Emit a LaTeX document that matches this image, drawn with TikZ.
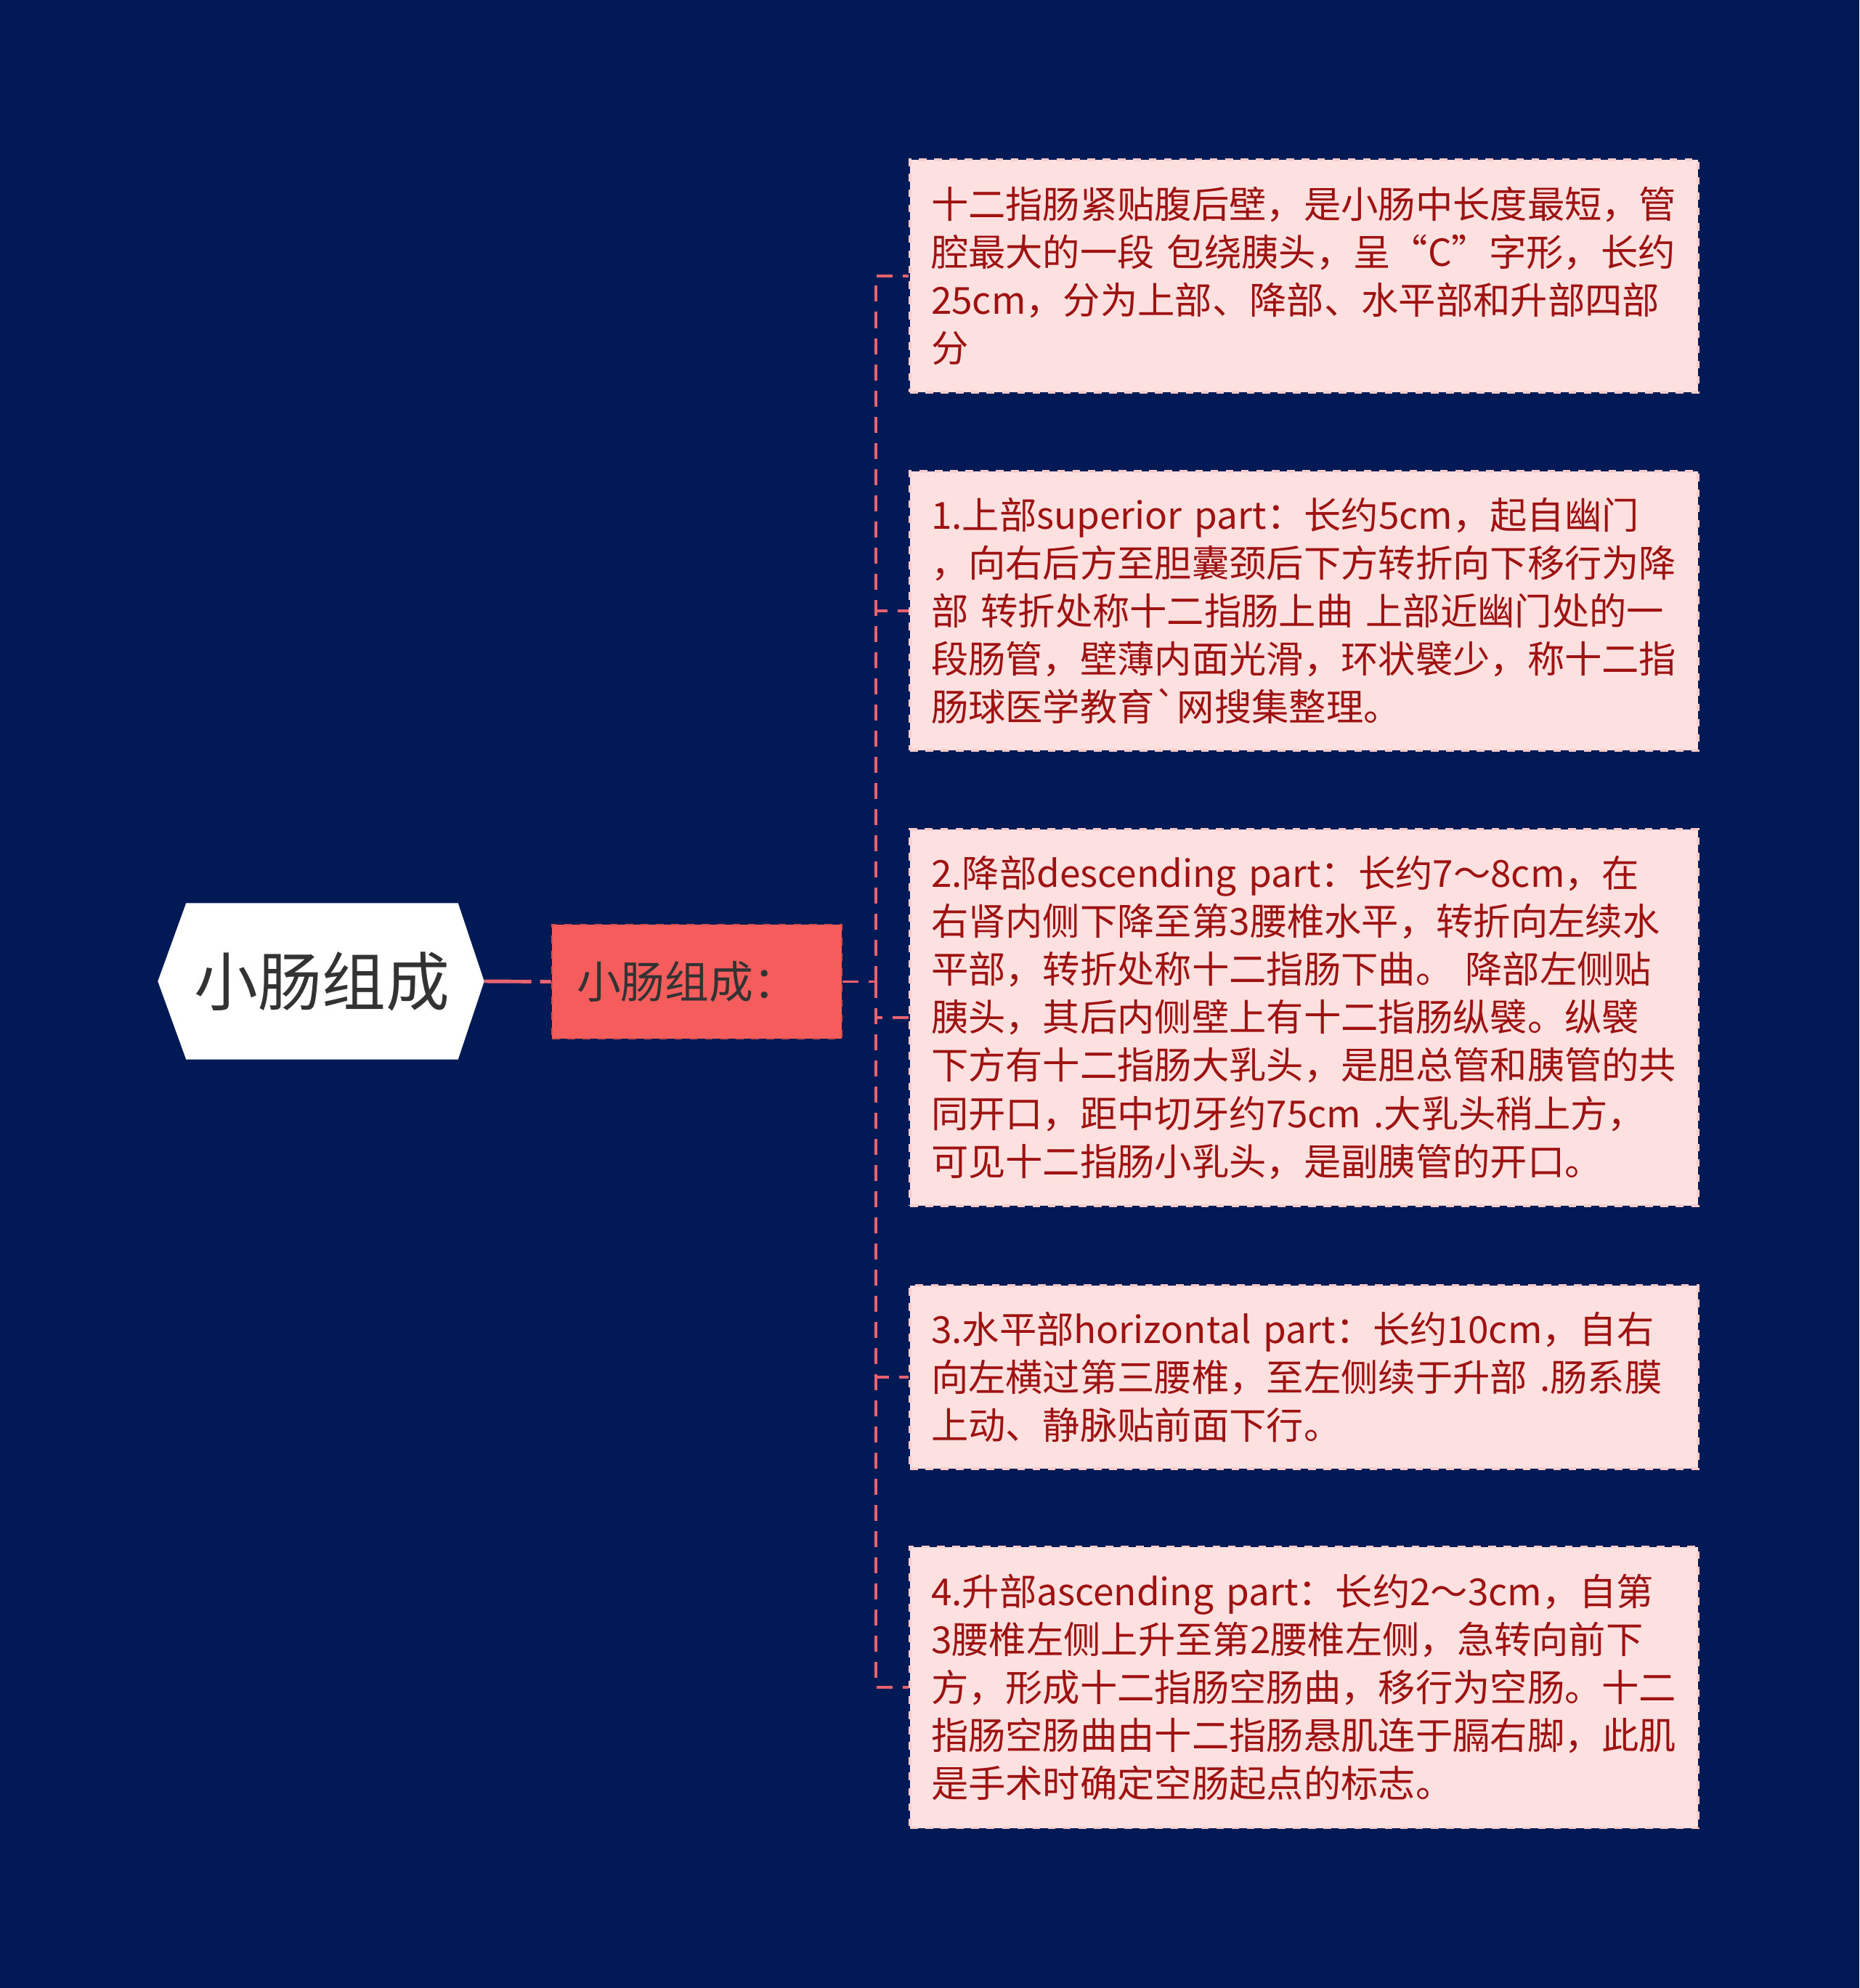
\documentclass[tikz,border=0pt]{standalone}
\usepackage{fontspec}
\setmainfont{Noto Sans CJK SC}
\newfontfamily\rawcjk{Noto Sans CJK SC}[Ligatures=TeXOff]
\usetikzlibrary{positioning}
\definecolor{bgnavy}{RGB}{1,26,86}
\definecolor{linkred}{RGB}{232,98,112}
\definecolor{subred}{RGB}{245,92,92}
\definecolor{leafpink}{RGB}{253,224,224}
\definecolor{leafrim}{RGB}{250,205,205}
\definecolor{leaftext}{RGB}{158,18,18}
\definecolor{darktext}{RGB}{51,51,51}

\begin{document}
\begin{tikzpicture}[
    leaf/.style={fill=leafpink, draw=leafrim, dashed, line width=0.9pt, text=leaftext,
        text width=10.27cm, inner xsep=0.29cm, minimum width=10.85cm, align=left,
        font=\fontsize{14.6}{18.8}\selectfont},
    link/.style={draw=linkred, line width=1.1pt, dash pattern=on 0.22cm off 0.14cm}
  ]
    \fill[bgnavy] (0,0) rectangle (25.6,-27.37);
    \useasboundingbox (0,0) rectangle (25.6,-27.37);

    % root and its hexagon
    \node[minimum width=3.73cm, minimum height=2.14cm, inner sep=0pt] at (4.435,-13.51) (root) {};
    \fill[white] (root.north west) -- (root.north east) -- ([xshift=3.6mm]root.east)
        -- (root.south east) -- (root.south west) -- ([xshift=-3.9mm]root.west) -- cycle;
    \node[text=darktext, font=\fontsize{25}{30}\selectfont] at (root) {小肠组成};

    \node[fill=subred, draw=subred!85!black, dashed, line width=0.8pt, text=darktext,
        text width=3.31cm, inner xsep=0.34cm, align=left,
        minimum width=3.99cm, minimum height=1.57cm, font=\fontsize{17.3}{20}\selectfont]
        at (9.595,-13.515) (parts) {小肠组成：};
    \draw[draw=linkred, line width=1.4pt, dash pattern=on 0.65cm off 0.12cm]
        ([xshift=3.6mm]root.east) -- (parts.west);

    % the five leaves
    \node[leaf, minimum height=3.20cm] at (17.955,-3.80) (intro) {十二指肠紧贴腹后壁，是小肠中长度最短，管\\
        腔最大的一段~包绕胰头，呈“C”字形，长约\\
        25cm，分为上部、降部、水平部和升部四部\\
        分};
    \node[leaf, minimum height=3.84cm] at (17.955,-8.41) (upper) {1.上部superior~part：长约5cm，起自幽门\\
        ，向右后方至胆囊颈后下方转折向下移行为降\\
        部~转折处称十二指肠上曲~上部近幽门处的一\\
        段肠管，壁薄内面光滑，环状襞少，称十二指\\
        肠球医学教育{\rawcjk`}网搜集整理。};
    \node[leaf, minimum height=5.18cm] at (17.955,-14.01) (desc) {2.降部descending~part：长约7～8cm，在\\
        右肾内侧下降至第3腰椎水平，转折向左续水\\
        平部，转折处称十二指肠下曲。~降部左侧贴\\
        胰头，其后内侧壁上有十二指肠纵襞。纵襞\\
        下方有十二指肠大乳头，是胆总管和胰管的共\\
        同开口，距中切牙约75cm~.大乳头稍上方，\\
        可见十二指肠小乳头，是副胰管的开口。};
    \node[leaf, minimum height=2.52cm] at (17.955,-18.96) (horiz) {3.水平部horizontal~part：长约10cm，自右\\
        向左横过第三腰椎，至左侧续于升部~.肠系膜\\
        上动、静脉贴前面下行。};
    \node[leaf, minimum height=3.87cm] at (17.955,-23.23) (asc) {4.升部ascending~part：长约2～3cm，自第\\
        3腰椎左侧上升至第2腰椎左侧，急转向前下\\
        方，形成十二指肠空肠曲，移行为空肠。十二\\
        指肠空肠曲由十二指肠悬肌连于膈右脚，此肌\\
        是手术时确定空肠起点的标志。};

    \coordinate (fork) at (12.06,-13.515);
    \draw[link] (parts.east) -- (fork);
    \foreach \leafname in {intro,upper,desc,horiz,asc}
        \draw[link] (fork) |- (\leafname.west);
\end{tikzpicture}
\end{document}
